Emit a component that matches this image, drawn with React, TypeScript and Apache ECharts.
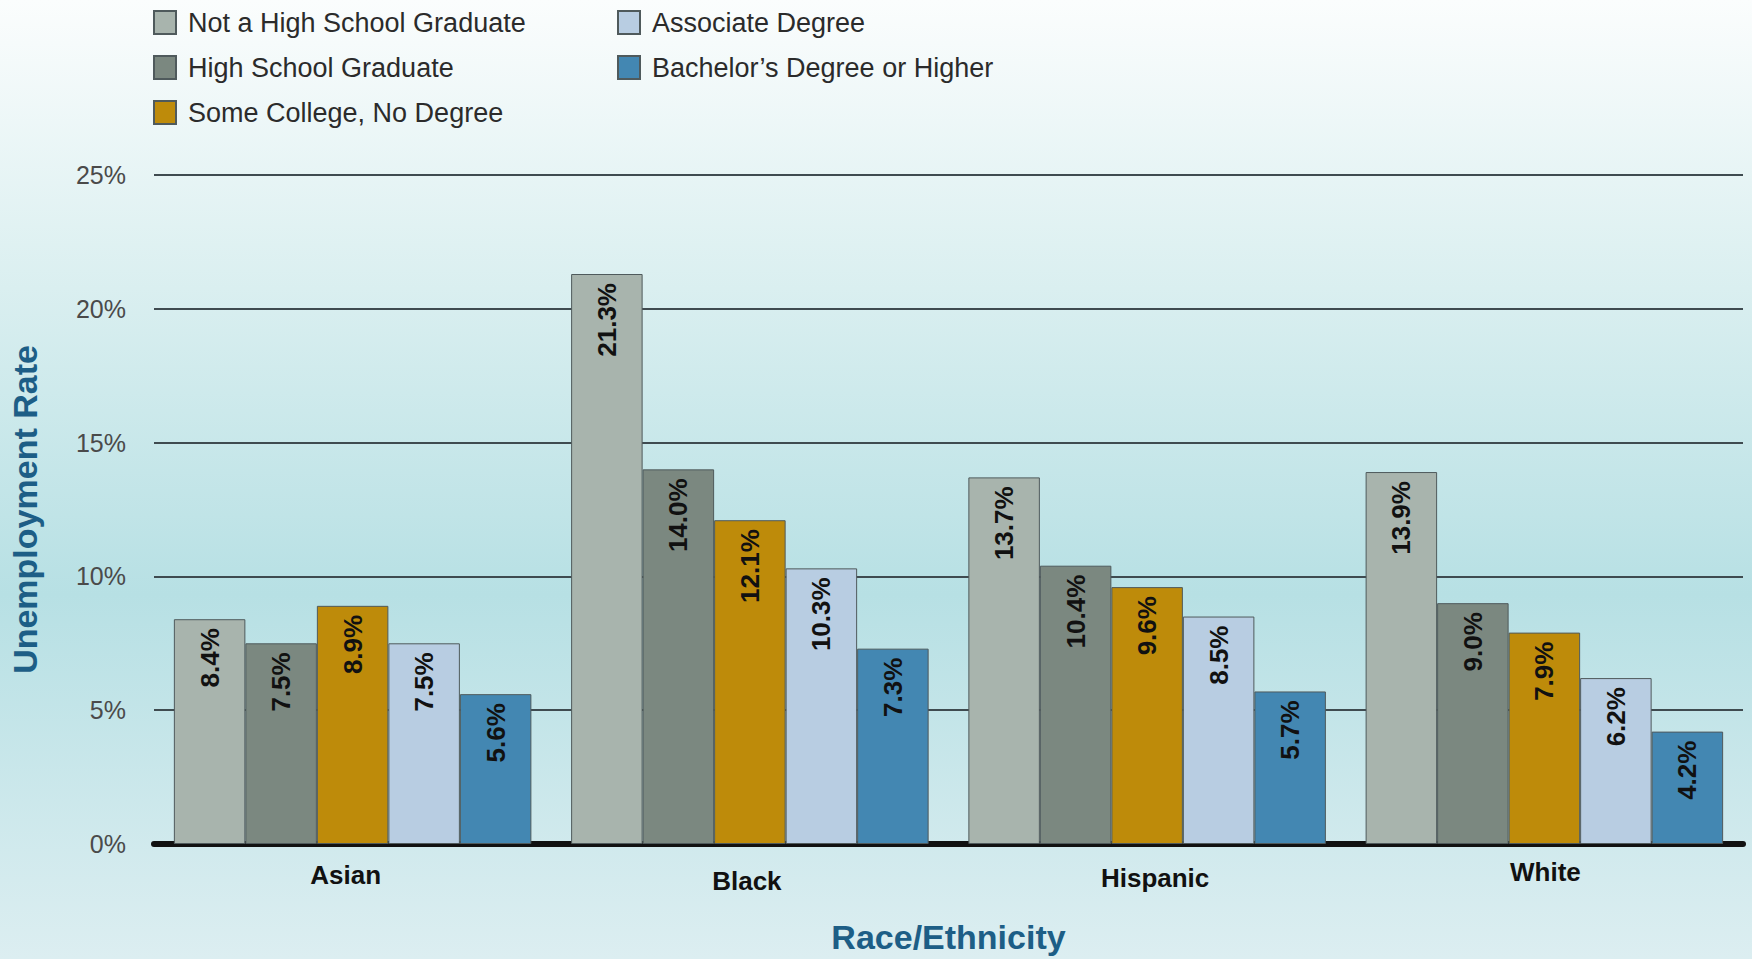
import React, { useEffect, useRef } from "react";
import * as echarts from "echarts";

const categories = ["Asian", "Black", "Hispanic", "White"];
const seriesNames = [
  "Not a High School Graduate",
  "High School Graduate",
  "Some College, No Degree",
  "Associate Degree",
  "Bachelor\u2019s Degree or Higher",
];
const notHighSchool = [8.4, 21.3, 13.7, 13.9];
const highSchool = [7.5, 14.0, 10.4, 9.0];
const someCollege = [8.9, 12.1, 9.6, 7.9];
const associate = [7.5, 10.3, 8.5, 6.2];
const bachelor = [5.6, 7.3, 5.7, 4.2];
const yTicks = [0, 5, 10, 15, 20, 25];

const colors = ["#a8b4ad", "#7b8880", "#be8b0a", "#b8cde2", "#4387b2"];

export default function App() {
  const ref = useRef<HTMLDivElement>(null);
  useEffect(() => {
    document.body.style.margin = "0";
    const chart = echarts.init(ref.current!, undefined, { renderer: "svg" });
    const values = [notHighSchool, highSchool, someCollege, associate, bachelor];
    const font = "'Liberation Sans', Arial, sans-serif";
    const legendText = { fontSize: 27, color: "#2b2b2b", fontFamily: font, lineHeight: 24, padding: [0, 0, 0, 7] };
    const catStyle = { fontSize: 26, fontWeight: "bold", color: "#111", fontFamily: font };
    chart.setOption({
      animation: false,
      backgroundColor: new echarts.graphic.LinearGradient(0, 0, 0, 1, [
        { offset: 0, color: "#fbfdfd" },
        { offset: 0.3, color: "#daeff0" },
        { offset: 0.62, color: "#b7e0e4" },
        { offset: 1, color: "#dceef1" },
      ]),
      legend: [
        {
          orient: "vertical",
          left: 148,
          top: 4,
          itemWidth: 22,
          itemHeight: 23,
          itemGap: 18,
          icon: "rect",
          textStyle: legendText,
          data: seriesNames.slice(0, 3),
        },
        {
          orient: "vertical",
          left: 612,
          top: 4,
          itemWidth: 22,
          itemHeight: 23,
          itemGap: 18,
          icon: "rect",
          textStyle: legendText,
          data: seriesNames.slice(3),
        },
      ],
      grid: { left: 154, right: 9, top: 175, bottom: 112, containLabel: false },
      xAxis: {
        type: "category",
        data: categories,
        name: "Race/Ethnicity",
        nameLocation: "middle",
        nameGap: 76,
        nameTextStyle: { fontSize: 34, fontWeight: "bold", color: "#1d5e86", fontFamily: font },
        axisLine: { show: true, lineStyle: { color: "#111", width: 6 } },
        axisTick: { show: false },
        axisLabel: {
          margin: 15,
          formatter: (v: string) => `{${v}|${v}}`,
          rich: {
            Asian: { ...catStyle, padding: [3, 14, 0, 0] },
            Black: { ...catStyle, padding: [9, 6, 0, 0] },
            Hispanic: { ...catStyle, padding: [6, 0, 0, 16] },
            White: { ...catStyle, padding: [0, 0, 0, 2] },
          },
        },
      },
      yAxis: {
        type: "value",
        min: yTicks[0],
        max: yTicks[yTicks.length - 1],
        interval: 5,
        name: "Unemployment Rate",
        nameLocation: "middle",
        nameRotate: 90,
        nameGap: 112,
        nameTextStyle: { fontSize: 34, fontWeight: "bold", color: "#1d5e86", fontFamily: font },
        axisLine: { show: false },
        axisTick: { show: false },
        axisLabel: { formatter: "{value}%", fontSize: 25, color: "#4a4a4a", margin: 28, fontFamily: font },
        splitLine: { show: true, lineStyle: { color: "#3f4b50", width: 2 } },
      },
      series: seriesNames.map((name, i) => ({
        name,
        type: "bar",
        data: values[i],
        barGap: "0%",
        barCategoryGap: "10%",
        itemStyle: { color: colors[i], borderColor: "#4f5a5c", borderWidth: 1 },
        label: {
          show: true,
          position: "insideTop",
          rotate: 90,
          align: "right",
          verticalAlign: "middle",
          distance: 9,
          formatter: (p: any) => Number(p.value).toFixed(1) + "%",
          fontSize: 26,
          fontWeight: "bold",
          color: "#111",
          fontFamily: font,
        },
      })),
    });
    return () => chart.dispose();
  }, []);
  return <div ref={ref} style={{ width: 1752, height: 959 }} />;
}
